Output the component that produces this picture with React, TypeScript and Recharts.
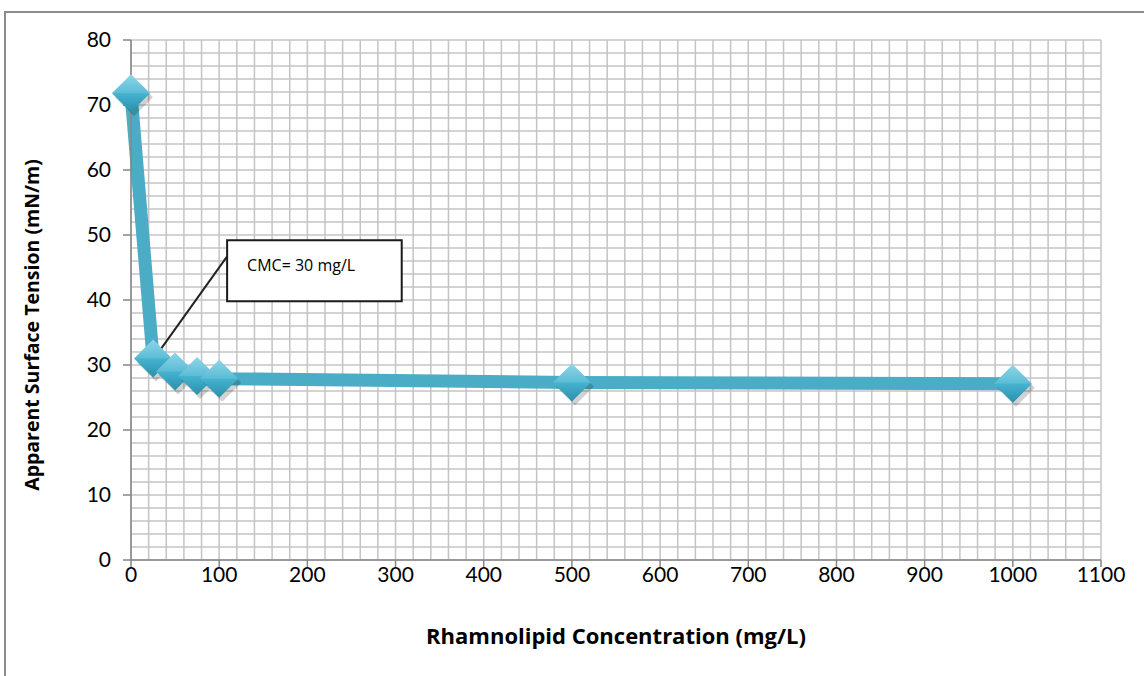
import React from "react";
import {
  LineChart,
  Line,
  XAxis,
  YAxis,
  CartesianGrid,
  ReferenceArea,
  ReferenceLine,
} from "recharts";

// Rhamnolipid concentration (mg/L) vs apparent surface tension (mN/m)
const concentration = [0, 25, 50, 75, 100, 500, 1000];
const surfaceTension = [71.8, 31.0, 29.0, 28.3, 27.9, 27.3, 27.1];

const xTicks = [0, 100, 200, 300, 400, 500, 600, 700, 800, 900, 1000, 1100];
const yTicks = [0, 10, 20, 30, 40, 50, 60, 70, 80];

// minor grid: every 20 on x, every 2 on y
const xGrid = Array.from({ length: 56 }, (_, i) => i * 20);
const yGrid = Array.from({ length: 41 }, (_, i) => i * 2);

const data = concentration.map((c, i) => ({ c, st: surfaceTension[i] }));

const FONT = "Lato, 'Open Sans', sans-serif";
const LINE = "#4bacc6";

function Diamond(props: any) {
  const { cx, cy, index } = props;
  if (cx == null || cy == null) return null;
  const r = 19;
  const id = `dg${index}`;
  return (
    <g key={index}>
      <defs>
        <linearGradient id={id} x1="0" y1="0" x2="0" y2="1">
          <stop offset="0%" stopColor="#7fd0e6" />
          <stop offset="50%" stopColor="#45b3d0" />
          <stop offset="100%" stopColor="#2b8fab" />
        </linearGradient>
      </defs>
      <polygon
        points={`${cx + 3},${cy - r + 4} ${cx + r + 3},${cy + 4} ${cx + 3},${cy + r + 4} ${cx - r + 3},${cy + 4}`}
        fill="rgba(0,0,0,0.18)"
      />
      <polygon
        points={`${cx},${cy - r} ${cx + r},${cy} ${cx},${cy + r} ${cx - r},${cy}`}
        fill={`url(#${id})`}
      />
      <polygon
        points={`${cx},${cy - r} ${cx + r},${cy} ${cx - r},${cy}`}
        fill="rgba(255,255,255,0.12)"
      />
    </g>
  );
}

function CalloutLabel(props: any) {
  const { viewBox } = props;
  if (!viewBox) return null;
  return (
    <text
      x={viewBox.x + 20}
      y={viewBox.y + 31}
      fontFamily="'Open Sans', sans-serif"
      fontSize={16}
      fill="#000"
    >
      CMC= 30 mg/L
    </text>
  );
}

function YTitle(props: any) {
  const { viewBox } = props;
  if (!viewBox) return null;
  const x = 31;
  const y = viewBox.y + viewBox.height / 2 + 25;
  return (
    <text
      x={x}
      y={y}
      transform={`rotate(-90, ${x}, ${y})`}
      textAnchor="middle"
      dominantBaseline="central"
      fontFamily="'Open Sans', sans-serif"
      fontWeight={700}
      fontSize={19.5}
      fill="#000"
    >
      Apparent Surface Tension (mN/m)
    </text>
  );
}

export default function App() {
  return (
    <div
      style={{
        position: "absolute",
        left: 0,
        top: 0,
        width: 1144,
        height: 676,
        background: "#fff",
        overflow: "hidden",
      }}
    >
      <div
        style={{
          position: "absolute",
          left: 4,
          top: 11,
          width: 1200,
          height: 700,
          borderLeft: "2px solid #8c8c8c",
          borderTop: "2px solid #8c8c8c",
        }}
      />
      <div style={{ position: "absolute", left: 0, top: 0 }}>
        <LineChart
          width={1144}
          height={676}
          data={data}
          margin={{ top: 40, right: 43, bottom: 0, left: 0 }}
        >
          <CartesianGrid
            stroke="#c4c4c4"
            strokeWidth={1.5}
            verticalValues={xGrid}
            horizontalValues={yGrid}
          />
          <XAxis
            type="number"
            dataKey="c"
            domain={[0, 1100]}
            ticks={xTicks}
            interval={0}
            height={116}
            stroke="#868686"
            strokeWidth={1.5}
            tickSize={7}
            tickMargin={0}
            fontSize={21}
            tick={{ fill: "#000", fontSize: 21, fontFamily: FONT }}
            label={{
              value: "Rhamnolipid Concentration (mg/L)",
              position: "insideTop",
              offset: 68,
              style: {
                fontFamily: "'Open Sans', sans-serif",
                fontWeight: 700,
                fontSize: 22,
                fill: "#000",
              },
            }}
          />
          <YAxis
            type="number"
            domain={[0, 80]}
            ticks={yTicks}
            interval={0}
            width={131}
            stroke="#868686"
            strokeWidth={1.5}
            tickSize={8}
            tickMargin={12}
            fontSize={21}
            tick={{ fill: "#000", fontSize: 21, fontFamily: FONT }}
            label={<YTitle />}
          />
          <Line
            type="linear"
            dataKey="st"
            stroke={LINE}
            strokeWidth={13}
            strokeLinejoin="round"
            dot={<Diamond />}
            activeDot={false}
            isAnimationActive={false}
          />
          <ReferenceLine
            segment={[
              { x: 33, y: 32.3 },
              { x: 109, y: 46.7 },
            ]}
            stroke="#222"
            strokeWidth={2}
            ifOverflow="visible"
          />
          <ReferenceArea
            x1={109}
            x2={307}
            y1={39.8}
            y2={49.2}
            fill="#fff"
            fillOpacity={1}
            stroke="#1a1a1a"
            strokeWidth={2}
            ifOverflow="visible"
            label={<CalloutLabel />}
          />
        </LineChart>
      </div>
    </div>
  );
}
